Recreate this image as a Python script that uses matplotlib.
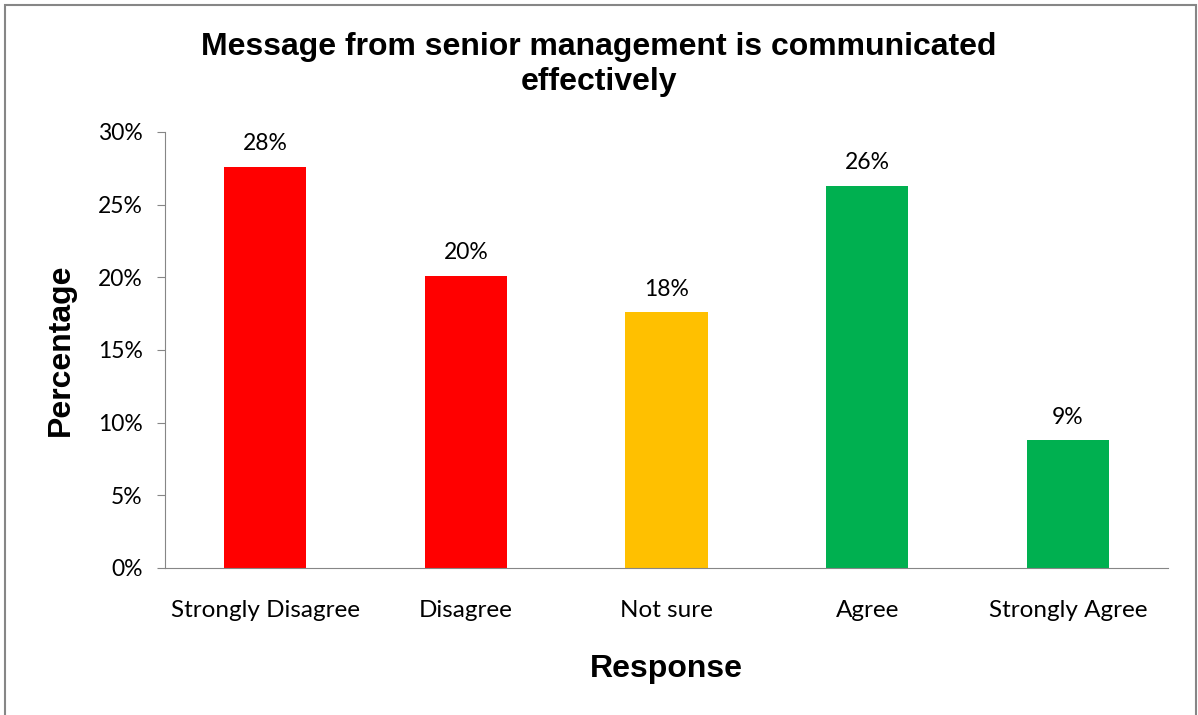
import matplotlib.pyplot as plt
from matplotlib.patches import Rectangle
from matplotlib.ticker import PercentFormatter

# survey responses
respostas = ["Strongly Disagree", "Disagree", "Not sure", "Agree", "Strongly Agree"]
percentuais = [0.276, 0.201, 0.176, 0.263, 0.088]
cores = ["#FF0000", "#FF0000", "#FFC000", "#00B050", "#00B050"]

titulo = "Message from senior management is communicated\neffectively"

fig = plt.figure(figsize=(11.98, 7.15), dpi=100)
ax = fig.add_axes([0.1377, 0.2056, 0.8375, 0.6098])

pos = range(len(respostas))
barras = ax.bar(pos, percentuais, width=0.41, color=cores)

# rótulos acima das barras
for x, v in zip(pos, percentuais):
    ax.annotate(f"{v * 100:.0f}%", xy=(x, v), xytext=(0, 9), textcoords="offset points",
                ha="center", va="bottom", fontsize=16.5, family="Lato")

ax.set_xlim(-0.5, len(respostas) - 0.5)
ax.set_ylim(0, 0.30)
ax.set_yticks([0, 0.05, 0.10, 0.15, 0.20, 0.25, 0.30])
ax.yaxis.set_major_formatter(PercentFormatter(1.0, decimals=0))
ax.set_xticks(list(pos))
ax.set_xticklabels(respostas)

for lbl in ax.get_xticklabels():
    lbl.set_family("Lato")
    lbl.set_fontsize(17.5)
for lbl in ax.get_yticklabels():
    lbl.set_family("Lato")
    lbl.set_fontsize(16.5)

ax.spines["top"].set_visible(False)
ax.spines["right"].set_visible(False)
ax.spines["left"].set_color("#868686")
ax.spines["bottom"].set_color("#868686")
ax.tick_params(axis="y", length=6, color="#868686", pad=10)
ax.tick_params(axis="x", length=0, pad=23)

ax.set_ylabel("Percentage", fontsize=23, fontweight="bold", family="Liberation Sans", labelpad=16)
ax.set_xlabel("Response", fontsize=23, fontweight="bold", family="Liberation Sans", labelpad=24)

fig.text(0.5, 0.91, titulo, ha="center", va="center", fontsize=23, fontweight="bold",
         family="Liberation Sans", linespacing=1.2)

# moldura cinza em volta da figura
fig.patches.append(Rectangle((0.004, -0.01), 0.994, 1.003, transform=fig.transFigure,
                             fill=False, edgecolor="#868686", linewidth=1.5))

plt.savefig("out.png", dpi=100)
